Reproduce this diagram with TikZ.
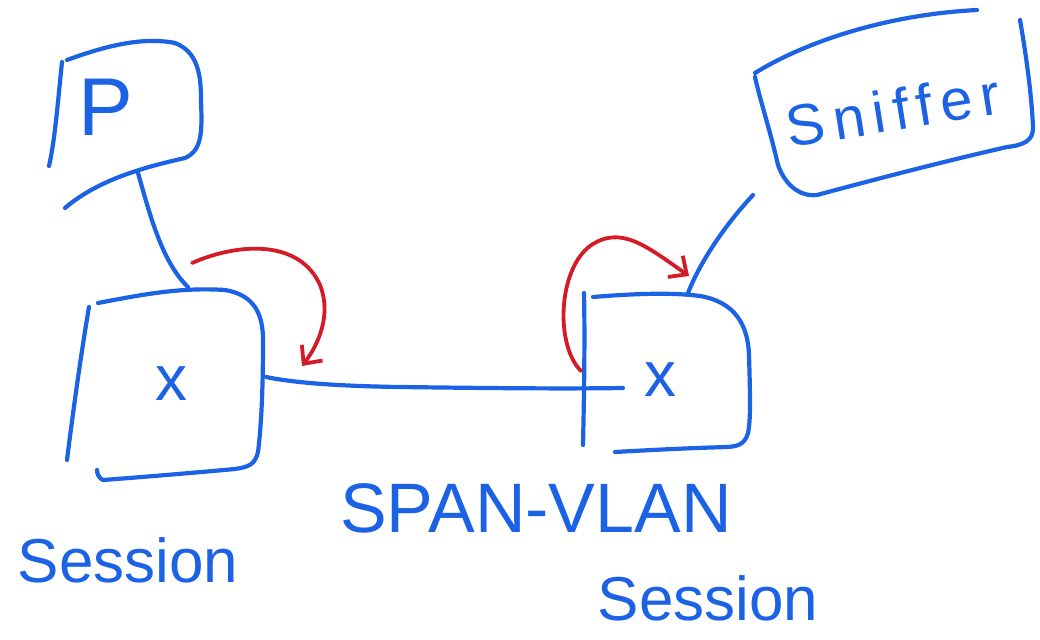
\documentclass[tikz,border=0pt]{standalone}
\usepackage{fontspec}
\setmainfont{Liberation Sans}
\usetikzlibrary{arrows.meta}
\definecolor{penblue}{RGB}{28,98,228}
\definecolor{penred}{RGB}{212,28,38}
\tikzset{
  pen/.style={draw=penblue,line width=4.2pt,line cap=round,line join=round},
  redpen/.style={draw=penred,line width=3.8pt,line cap=round,line join=round,
    -{Straight Barb[length=14pt,width=26pt,line width=3.8pt]}},
  hand/.style={text=penblue,inner sep=0pt,anchor=center},
}
\begin{document}
\begin{tikzpicture}[x=1pt,y=-1pt]
\useasboundingbox (0,0) rectangle (1040,639);

% ---------- P box ----------
\node[hand,font=\fontsize{82}{82}\selectfont] (P) at (106,107) {P};
\draw[pen] (62,62) .. controls (58,100) and (55,140) .. (49,166);
\draw[pen] (67,60) .. controls (100,48) and (140,36) .. (175,43)
  .. controls (198,52) and (201,75) .. (201,100)
  .. controls (202,130) and (203,150) .. (185,158)
  .. controls (150,166) and (100,178) .. (65,208);
\coordinate (Pbot) at (138,173);

% ---------- left switch ----------
\node[hand,font=\fontsize{64}{64}\selectfont] (X1) at (171,384) {x};
\draw[pen] (89,307) .. controls (80,360) and (72,420) .. (67,460);
\draw[pen] (98,303) .. controls (140,295) and (180,287) .. (225,290)
  .. controls (255,295) and (263,315) .. (263,340)
  .. controls (263,380) and (262,420) .. (258,452)
  .. controls (255,465) and (248,467) .. (235,469)
  .. controls (180,474) and (130,478) .. (103,480)
  .. controls (99,478) and (97,474) .. (97,470);
\coordinate (S1top) at (188,287);
\coordinate (S1right) at (266,377);

% ---------- right switch ----------
\node[hand,font=\fontsize{64}{64}\selectfont] (X2) at (660,380) {x};
\draw[pen] (584,293) .. controls (585,340) and (584,400) .. (583,445);
\draw[pen] (593,297) .. controls (630,294) and (670,292) .. (700,296)
  .. controls (735,302) and (748,325) .. (749,355)
  .. controls (750,390) and (751,420) .. (748,433)
  .. controls (745,443) and (740,446) .. (728,447)
  .. controls (690,448) and (650,450) .. (615,452);
\coordinate (S2top) at (688,293);
\coordinate (S2in) at (623,388);

% ---------- Sniffer box ----------
\node[hand,font=\fontsize{58}{58}\selectfont\addfontfeatures{LetterSpace=14},
      rotate=9] (Sn) at (893,110) {Sniffer};
\draw[pen] (755,73) .. controls (800,45) and (880,15) .. (977,10);
\draw[pen] (1020,20) .. controls (1027,60) and (1032,100) .. (1033,128)
  .. controls (1033,140) and (1025,145) .. (1007,147)
  .. controls (950,160) and (880,178) .. (817,195)
  .. controls (800,197) and (785,185) .. (778,165)
  .. controls (770,130) and (760,100) .. (755,77);
\coordinate (Snbot) at (753,195);

% ---------- connectors ----------
\draw[pen] (Pbot) .. controls (150,215) and (162,262) .. (S1top);
\draw[pen] (Snbot) .. controls (725,225) and (700,262) .. (S2top);
\draw[pen] (S1right) .. controls (290,382) and (330,386) .. (400,387)
  .. controls (480,388) and (560,389) .. (S2in);

% ---------- red arrows ----------
\coordinate (r1s) at (192,263);
\coordinate (r1e) at (302,366);
\draw[redpen] (r1s) .. controls (240,242) and (300,240) .. (320,285)
  .. controls (332,315) and (318,345) .. (r1e);
\coordinate (r2s) at (581,371);
\coordinate (r2e) at (689,276);
\draw[redpen] (r2s) .. controls (555,345) and (558,270) .. (590,246)
  .. controls (620,225) and (645,245) .. (r2e);

% ---------- labels ----------
\node[hand,font=\fontsize{70}{70}\selectfont] (span) at (536,508) {SPAN-VLAN};
\node[hand,font=\fontsize{62}{62}\selectfont] (sess1) at (128,560) {Session};
\node[hand,font=\fontsize{62}{62}\selectfont] (sess2) at (708,598) {Session};
\end{tikzpicture}
\end{document}
